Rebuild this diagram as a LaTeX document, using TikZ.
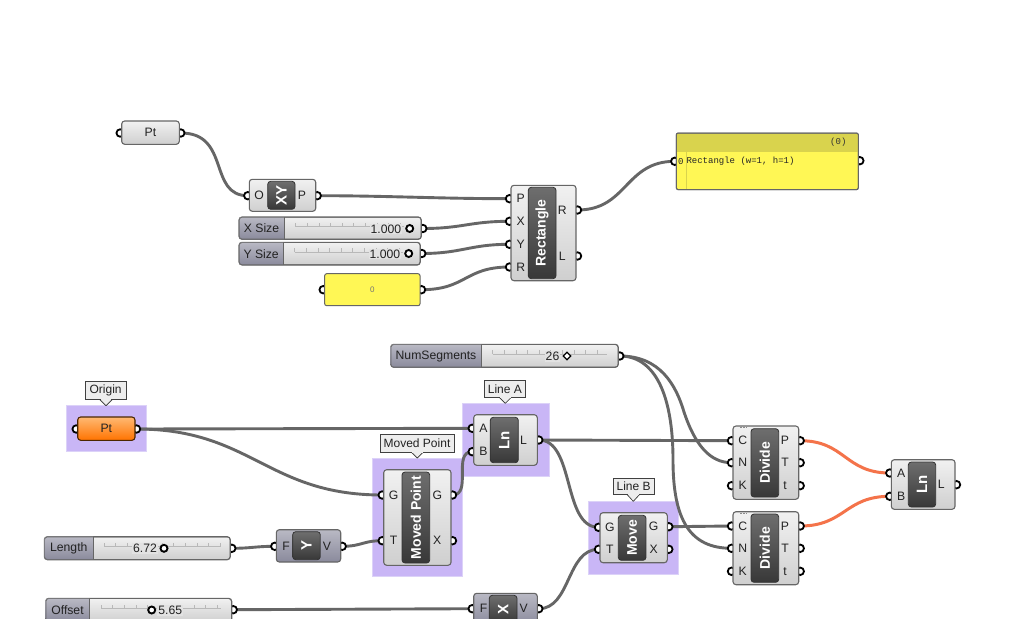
\documentclass[tikz,border=0pt]{standalone}
\usepackage{fontspec}
\usetikzlibrary{shapes.geometric}
\setmainfont{Liberation Sans}
\setmonofont{Liberation Mono}
\definecolor{wirec}{HTML}{666666}
\definecolor{hotc}{HTML}{F4734A}
\definecolor{groupc}{HTML}{C9B6F6}
\definecolor{groupb}{HTML}{DCD2F8}
\definecolor{edgec}{HTML}{666666}
\definecolor{bodyt}{HTML}{F1F1F1}
\definecolor{bodyb}{HTML}{CFCFCF}
\definecolor{darkt}{HTML}{B9B9C4}
\definecolor{darkb}{HTML}{8A8A9C}
\definecolor{icont}{HTML}{6E6E6E}
\definecolor{iconm}{HTML}{404040}
\definecolor{iconb}{HTML}{383838}
\definecolor{yelc}{HTML}{FFF755}
\definecolor{yelh}{HTML}{D9D34D}
\definecolor{slidc}{HTML}{E2E2E2}
\definecolor{txtc}{HTML}{222222}
\pgfdeclarelayer{groups}\pgfdeclarelayer{wires}\pgfdeclarelayer{ports}
\pgfsetlayers{groups,wires,ports,main}
\tikzset{
 x=1pt,y=-1pt,
 wire/.style={draw=wirec,line width=2.9pt},
 hotwire/.style={draw=hotc,line width=3pt},
 portn/.style={circle,draw=black,fill=white,line width=1.8pt,minimum size=7.5pt,inner sep=0pt,outer sep=0pt},
 plab/.style={font=\fontsize{12.2}{13}\selectfont,text=txtc,inner sep=0pt},
 vallab/.style={font=\fontsize{12.2}{13}\selectfont,text=txtc,inner sep=1pt,fill=slidc},
 grip/.style={circle,draw=black,fill=white,line width=1.9pt,minimum size=7pt,inner sep=0pt},
 gripd/.style={diamond,draw=black,fill=white,line width=1.2pt,minimum size=8pt,inner sep=0pt},
 bodyn/.style={rectangle,rounded corners=3pt,draw=edgec,line width=1.1pt,top color=bodyt,bottom color=bodyb,inner sep=0pt,outer sep=0pt},
 darkn/.style={bodyn,top color=darkt,bottom color=darkb},
 orangen/.style={bodyn,draw=black!70!orange,top color=orange!55!white,middle color=orange!85!yellow,bottom color=orange!90!red},
 yeln/.style={rectangle,rounded corners=2pt,draw=edgec,line width=1pt,fill=yelc,inner sep=0pt,outer sep=0pt},
 iconn/.style={rectangle,rounded corners=3pt,draw=black!80,line width=.8pt,top color=icont,middle color=iconm,bottom color=iconb,inner sep=0pt,outer sep=0pt},
 icontxt/.style={text=white,inner sep=0pt},
 groupn/.style={rectangle,fill=groupc,draw=groupb,line width=.8pt,inner sep=0pt,outer sep=0pt},
 bubblen/.style={rectangle,draw=black!75,fill=white!93!black,line width=.8pt,font=\fontsize{12}{12}\selectfont,text=txtc,inner sep=0pt,outer sep=0pt},
 rail/.style={draw=black!28,line width=.6pt},
 dotsm/.style={draw=black!45,line width=.7pt,dash pattern=on 2pt off 1pt},
}
% name x1 y1 x2 y2 style text
\newcommand{\gbox}[7]{\node[#6,minimum width={(#4-#2)*1pt},minimum height={(#5-#3)*1pt}] (#1) at ({(#2+#4)/2},{(#3+#5)/2}) {#7};}
\newcommand{\gin}[4]{\begin{pgfonlayer}{ports}\node[portn] (#1) at (#2-1.5,#3) {};\end{pgfonlayer}\node[plab] (#1-t) at (#2+9.8,#3) {#4};}
\newcommand{\gout}[4]{\begin{pgfonlayer}{ports}\node[portn] (#1) at (#2+1.5,#3) {};\end{pgfonlayer}\node[plab] (#1-t) at (#2-13.7,#3) {#4};}
\newcommand{\pin}[3]{\begin{pgfonlayer}{ports}\node[portn] (#1) at (#2-1.5,#3) {};\end{pgfonlayer}}
\newcommand{\pout}[3]{\begin{pgfonlayer}{ports}\node[portn] (#1) at (#2+1.5,#3) {};\end{pgfonlayer}}
% name x1 y1 x2 y2 rotate text size
\newcommand{\gicon}[8]{\gbox{#1}{#2}{#3}{#4}{#5}{iconn}{}\node[icontxt,rotate=#6,font=\fontsize{#8}{#8}\selectfont\bfseries] (#1-t) at (#1.center) {#7};}
% name x1 y1 x2 y2 split label rail1 rail2
\newcommand{\gslider}[9]{%
 \gbox{#1}{#2}{#3}{#4}{#5}{bodyn}{}
 \begin{scope}\clip[rounded corners=3pt] (#2,#3) rectangle (#4,#5);
  \shade[top color=darkt,bottom color=darkb] (#2,#3) rectangle (#6,#5);
  \draw[edgec,line width=1pt] (#6,#3) -- (#6,#5);
  \draw[edgec,line width=1.2pt,rounded corners=3pt] (#2,#3) rectangle (#4,#5);
 \end{scope}
 \node[plab] (#1-l) at ({(#2+#6)/2},{(#3+#5)/2+.3}) {#7};
 \draw[rail] (#8,{(#3+#5)/2-1.6}) -- (#9,{(#3+#5)/2-1.6});
 \foreach \tx in {0,1,...,10} {\pgfmathsetmacro\tickx{#8+\tx*11.6}\ifdim\tickx pt<#9pt\relax
   \draw[rail] (\tickx,{(#3+#5)/2-1.6}) -- ++(0,-4);\fi}
}
% bubble: name x1 y1 x2 y2 tipx tipy text
\newcommand{\gbubble}[8]{\draw[black!75,fill=white!93!black,line width=.8pt,line join=round] (#6-6,#5) -- (#6,#7) -- (#6+6,#5);
 \gbox{#1}{#2}{#3}{#4}{#5}{bubblen}{#8}
 \fill[white!93!black] (#6-5.3,#5-.6) rectangle (#6+5.3,#5+.5);
 \fill[white!93!black] (#6-5,#5) -- (#6,#7-1) -- (#6+5,#5) -- cycle;}
\begin{document}
\begin{tikzpicture}
\useasboundingbox (0,0) rectangle (1024,618);

% groups
\begin{pgfonlayer}{groups}
\fill[white] (0,0) rectangle (1024,618);
\gbox{g-origin}{66}{405.7}{146.3}{451.7}{groupn}{}
\gbox{g-linea}{462}{403.3}{549}{476.7}{groupn}{}
\gbox{g-moved}{372.3}{458}{462}{576.7}{groupn}{}
\gbox{g-lineb}{588.3}{501.3}{678.3}{574}{groupn}{}
\end{pgfonlayer}

% Pt (top)
\gbox{pt}{121.7}{121}{179.3}{144.3}{bodyn}{\fontsize{12.2}{13}\selectfont\color{txtc}Pt}
\pin{pt-i}{121.7}{133}\pout{pt-o}{179.3}{133}

% XY
\gbox{xy}{249.3}{179.3}{315.7}{211.3}{bodyn}{}
\gicon{xy-ic}{267.7}{181.3}{295}{209.3}{90}{XY}{15}
\gin{xy-O}{249.3}{195.7}{O}\gout{xy-P}{315.7}{195.7}{P}

% sliders
\gslider{xs}{239}{217}{421.3}{239.3}{284}{X Size}{295.7}{404}
\node[vallab,anchor=east] (xs-v) at (402.4,229) {1.000};
\node[grip] (xs-g) at (409.7,228.5) {};
\pout{xs-o}{421.3}{228.5}
\gslider{ys}{239}{242.3}{420.3}{265}{283.3}{Y Size}{294.7}{403}
\node[vallab,anchor=east] (ys-v) at (401.4,254) {1.000};
\node[grip] (ys-g) at (408.7,253.5) {};
\pout{ys-o}{420.3}{253.5}

% yellow 0
\gbox{pz}{324.7}{273.7}{420}{305.7}{yeln}{\fontsize{8}{8}\selectfont\color{black!55}0}
\pin{pz-i}{324.7}{289.7}\pout{pz-o}{420}{289.7}

% Rectangle
\gbox{rc}{511}{185.3}{576}{280.7}{bodyn}{}
\gicon{rc-ic}{528.3}{187.3}{556}{278.7}{90}{Rectangle}{14}
\gin{rc-P}{511}{198.7}{P}\gin{rc-X}{511}{221.3}{X}\gin{rc-Y}{511}{244.3}{Y}\gin{rc-R}{511}{267}{R}
\gout{rc-Ro}{576}{210}{R}\gout{rc-L}{576}{256}{L}

% Panel
\gbox{pn}{676.3}{133}{858.3}{189.7}{yeln}{}
\fill[yelh] (677,133.6) rectangle (857.6,152.3);
\draw[yelh,line width=.6pt] (686,133.6) -- (686,189);
\draw[edgec,line width=1pt,rounded corners=2pt] (676.3,133) rectangle (858.3,189.7);
\node[font=\ttfamily\fontsize{9}{9}\selectfont,text=black!80,inner sep=0pt] (pn-c) at (838.3,142.3) {(0)};
\node[font=\ttfamily\fontsize{9}{9}\selectfont,text=black!85,inner sep=0pt] (pn-n) at (680.9,161.6) {0};
\node[font=\ttfamily\fontsize{9}{9}\selectfont,text=black!85,inner sep=0pt,anchor=west] (pn-t) at (686.3,161.6) {Rectangle (w=1, h=1)};
\pin{pn-i}{676.3}{161.3}\pout{pn-o}{858.3}{160.7}

% NumSegments
\gslider{ns}{390.7}{344.3}{618.3}{367.3}{481.3}{NumSegments}{492.7}{607.3}
\node[vallab] (ns-v) at (552.5,356.3) {26};
\node[gripd] (ns-g) at (567,356) {};
\pout{ns-o}{618.3}{356}

% Origin
\gbubble{b-origin}{85.3}{381.7}{126}{399.7}{106}{405.7}{Origin}
\gbox{og}{77.7}{417}{135}{440.3}{orangen}{\fontsize{12.2}{13}\selectfont\color{txtc}Pt}
\pin{og-i}{77.7}{429}\pout{og-o}{135}{429}

% Length, Y
\gslider{ln}{44.3}{536.7}{230.3}{559.7}{93.3}{Length}{104}{220.5}
\node[vallab] (ln-v) at (145,548.5) {6.72};
\node[grip] (ln-g) at (164,548.3) {};
\pout{ln-o}{230.3}{548.3}
\gbox{yc}{276.3}{529.7}{340.7}{562}{darkn}{}
\gicon{yc-ic}{292.7}{531.7}{320.3}{559.7}{90}{Y}{15}
\gin{yc-F}{276.3}{546.3}{F}\gout{yc-V}{340.7}{546.3}{V}

% Offset, X
\gslider{of}{45.7}{598.3}{231.7}{622}{89.3}{Offset}{101}{221}
\node[vallab,anchor=west] (of-v) at (157.2,610.5) {5.65};
\node[grip] (of-g) at (151.7,610) {};
\pout{of-o}{231.7}{609.7}
\gbox{xc}{473.7}{593.3}{537.3}{625}{darkn}{}
\gicon{xc-ic}{489.3}{595.3}{517}{623}{90}{X}{15}
\gin{xc-F}{473.7}{608.7}{F}\gout{xc-V}{537.3}{608.7}{V}

% Moved Point
\gbubble{b-moved}{380}{434.7}{454}{452}{417.3}{458}{Moved Point}
\gbox{mp}{383.7}{469.7}{451}{565.3}{bodyn}{}
\gicon{mp-ic}{402}{472}{429.7}{563}{90}{Moved Point}{14}
\gin{mp-G}{383.7}{495}{G}\gin{mp-T}{383.7}{540.7}{T}
\gout{mp-Go}{451}{495}{G}\gout{mp-X}{451}{540.7}{X}

% Line A
\gbubble{b-linea}{484.7}{380.7}{525}{397.3}{505.3}{403.3}{Line A}
\gbox{la}{473.7}{414.7}{537.3}{465.3}{bodyn}{}
\gicon{la-ic}{490.3}{417.3}{518.3}{462.7}{90}{Ln}{15}
\gin{la-A}{473.7}{428.3}{A}\gin{la-B}{473.7}{451.7}{B}\gout{la-L}{537.3}{440}{L}

% Line B
\gbubble{b-lineb}{613.3}{478}{654}{494.7}{633.3}{501.3}{Line B}
\gbox{mv}{600}{512.7}{667.3}{562.7}{bodyn}{}
\gicon{mv-ic}{618.3}{515.3}{646}{560.3}{90}{Move}{14}
\gin{mv-G}{600}{527.3}{G}\gin{mv-T}{600}{549.3}{T}
\gout{mv-Go}{667.3}{526.7}{G}\gout{mv-X}{667.3}{549.3}{X}

% Divide 1
\gbox{d1}{733}{426}{798.7}{499.3}{bodyn}{}
\gicon{d1-ic}{751}{428.7}{778.7}{497}{90}{Divide}{14}
\gin{d1-C}{733}{440.7}{C}\gin{d1-N}{733}{462.7}{N}\gin{d1-K}{733}{485.7}{K}
\gout{d1-P}{798.7}{440.7}{P}\gout{d1-T}{798.7}{462.7}{T}\gout{d1-t}{798.7}{485.7}{t}
\draw[dotsm] (740,427.4) -- (747,427.4);
% Divide 2
\gbox{d2}{733}{511.7}{798.7}{584.7}{bodyn}{}
\gicon{d2-ic}{751}{514}{778.7}{582.3}{90}{Divide}{14}
\gin{d2-C}{733}{526}{C}\gin{d2-N}{733}{548.3}{N}\gin{d2-K}{733}{571.3}{K}
\gout{d2-P}{798.7}{526}{P}\gout{d2-T}{798.7}{548.3}{T}\gout{d2-t}{798.7}{571.3}{t}
\draw[dotsm] (740,513.1) -- (747,513.1);

% Ln right
\gbox{lr}{891.3}{459.7}{955}{509.3}{bodyn}{}
\gicon{lr-ic}{908.3}{462}{935.7}{507}{90}{Ln}{15}
\gin{lr-A}{891.3}{473}{A}\gin{lr-B}{891.3}{496.3}{B}\gout{lr-L}{955}{484.7}{L}

% wires
\coordinate (w1) at (684,412);
\coordinate (w2) at (673,460);
\begin{pgfonlayer}{wires}
\draw[wire] (pt-o.center) .. controls +(50,0) and +(-40,0) .. (xy-O.center);
\draw[wire] (xy-P.center) .. controls +(70,0) and +(-70,0) .. (rc-P.center);
\draw[wire] (xs-o.center) .. controls +(40,0) and +(-40,0) .. (rc-X.center);
\draw[wire] (ys-o.center) .. controls +(40,0) and +(-40,0) .. (rc-Y.center);
\draw[wire] (pz-o.center) .. controls +(45,0) and +(-45,0) .. (rc-R.center);
\draw[wire] (rc-Ro.center) .. controls +(50,0) and +(-50,0) .. (pn-i.center);
\draw[wire] (og-o.center) -- (la-A.center);
\draw[wire] (og-o.center) .. controls +(115,0) and +(-115,0) .. (mp-G.center);
\draw[wire] (ln-o.center) .. controls +(20,0) and +(-20,0) .. (yc-F.center);
\draw[wire] (yc-V.center) .. controls +(20,0) and +(-20,0) .. (mp-T.center);
\draw[wire] (mp-Go.center) .. controls +(20,0) and +(-20,0) .. (la-B.center);
\draw[wire] (la-L.center) -- (d1-C.center);
\draw[wire] (la-L.center) .. controls +(36,0) and +(-36,0) .. (mv-G.center);
\draw[wire] (of-o.center) -- (xc-F.center);
\draw[wire] (xc-V.center) .. controls +(32,0) and +(-32,0) .. (mv-T.center);
\draw[wire] (mv-Go.center) -- (d2-C.center);
\draw[wire] (ns-o.center) .. controls (660,356) and (676,385) .. (w1) .. controls (695,445) and (710,462.7) .. (d1-N.center);
\draw[wire] (ns-o.center) .. controls (655,356) and (673,395) .. (w2) .. controls (673,520) and (690,548.3) .. (d2-N.center);
\draw[hotwire] (d1-P.center) .. controls +(45,0) and +(-45,0) .. (lr-A.center);
\draw[hotwire] (d2-P.center) .. controls +(45,0) and +(-45,0) .. (lr-B.center);
\end{pgfonlayer}
\end{tikzpicture}
\end{document}
